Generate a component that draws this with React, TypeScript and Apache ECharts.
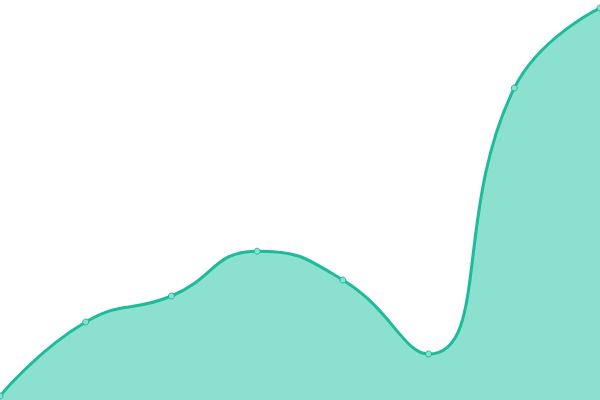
import React, { useEffect, useRef } from "react";
import * as echarts from "echarts";

const categories = ["1", "2", "3", "4", "5", "6", "7", "8"];
const values = [1, 19.5, 26, 37.2, 30, 11.5, 78, 98];

const App = () => {
  const chartRef = useRef<HTMLDivElement>(null);

  useEffect(() => {
    const myChart = echarts.init(chartRef.current, null, { renderer: "svg" });

    const option = {
      animation: false,
      grid: { left: 0, right: 0, top: 0, bottom: 0 },
      xAxis: {
        type: "category",
        data: categories,
        boundaryGap: false,
        show: false,
      },
      yAxis: {
        type: "value",
        min: 0,
        max: 100,
        show: false,
      },
      series: [
        {
          type: "line",
          data: values,
          smooth: true,
          symbol: "circle",
          symbolSize: 6,
          itemStyle: {
            color: "#8be0cf",
            borderColor: "#1dbb99",
            borderWidth: 1,
          },
          lineStyle: { color: "#1dbb99", width: 3 },
          areaStyle: { color: "#8be0cf", opacity: 1 },
        },
      ],
    };

    myChart.setOption(option);

    return () => {
      myChart.dispose();
    };
  }, []);

  return (
    <div
      ref={chartRef}
      style={{ position: "fixed", left: 0, top: 0, width: "600px", height: "400px" }}
    ></div>
  );
};

export default App;
